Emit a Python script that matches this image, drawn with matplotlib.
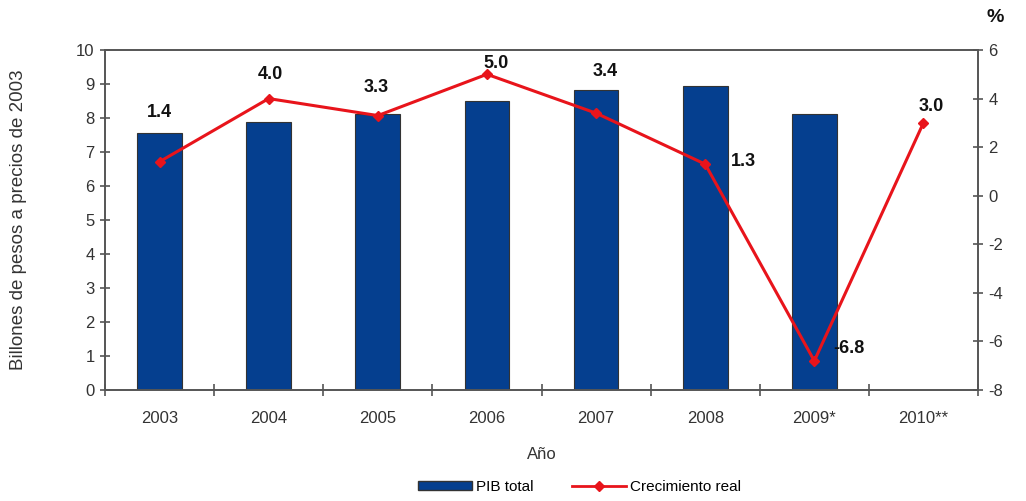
import matplotlib
matplotlib.use("Agg")
import matplotlib.pyplot as plt
from matplotlib.lines import Line2D
from matplotlib.patches import Patch
import numpy as np

plt.rcParams['font.family'] = ['Liberation Sans', 'DejaVu Sans']
plt.rcParams['axes.unicode_minus'] = False

years = ["2003", "2004", "2005", "2006", "2007", "2008", "2009*", "2010**"]
pib = [7.56, 7.88, 8.12, 8.5, 8.82, 8.94, 8.12, np.nan]
crec = [1.4, 4.0, 3.3, 5.0, 3.4, 1.3, -6.8, 3.0]
crec_labels = ["1.4", "4.0", "3.3", "5.0", "3.4", "1.3", "-6.8", "3.0"]
# label offsets in pixels (dx, dy)
offsets = [(0, 49), (2, 24), (-2, 28), (9, 11), (9, 42), (38, 3), (35, 12), (8, 16)]

bar_color = "#053F8F"
line_color = "#E8141B"
spine_color = "#555555"

fig = plt.figure(figsize=(10.26, 5.01), dpi=100)
ax = fig.add_axes([105/1026, 1-390/501, (978-105)/1026, (390-50)/501])
x = np.arange(len(years))
ax.bar(x, pib, width=0.41, color=bar_color, edgecolor="#333333", linewidth=0.8, zorder=2)
ax.set_xlim(-0.5, len(years)-0.5)
ax.set_ylim(0, 10)
ax.set_yticks(range(0, 11))
ax.set_xticks(x)
ax.set_xticklabels(years, fontsize=12, color="#333333")
ax.tick_params(axis='x', length=0, pad=15)
ax.set_xticks(np.arange(-0.5, len(years)), minor=True)
ax.tick_params(axis='x', which='minor', length=9, width=1.2, color=spine_color, direction='inout')
ax.tick_params(axis='y', length=7, width=1.2, color=spine_color, direction='inout', labelsize=12, labelcolor="#333333", pad=4)
for s in ax.spines.values():
    s.set_color(spine_color)
    s.set_linewidth(1.2)
ax.set_ylabel("Billones de pesos a precios de 2003", fontsize=13.5, color="#333333")
ax.yaxis.set_label_coords(-(105-27)/873, 0.5)
ax.set_xlabel("Año", fontsize=12, color="#333333", labelpad=15)

ax2 = ax.twinx()
ax2.plot(x, crec, color=line_color, linewidth=2.2, marker='D', markersize=5, zorder=3)
ax2.set_ylim(-8, 6)
ax2.set_yticks(range(-8, 7, 2))
ax2.tick_params(axis='y', length=7, width=1.2, color=spine_color, direction='inout', labelsize=12, labelcolor="#333333", pad=4)
for s in ax2.spines.values():
    s.set_color(spine_color)
    s.set_linewidth(1.2)
for xi, v, lab, (dx, dy) in zip(x, crec, crec_labels, offsets):
    ax2.annotate(lab, (xi, v), xytext=(dx*0.72, dy*0.72), textcoords='offset points',
                 ha='center', va='center', fontsize=13, fontweight='bold', color="#111111")
fig.text(995/1026, 1-17/501, "%", fontsize=14, fontweight='bold', ha='center', va='center', color="#111111")

handles = [Patch(facecolor=bar_color, edgecolor="#333333", label="PIB total"),
           Line2D([0], [0], color=line_color, linewidth=2, marker='D', markersize=5, label="Crecimiento real")]
fig.legend(handles=handles, loc='center', bbox_to_anchor=(0.565, 1-487/501), ncol=2, frameon=False,
           fontsize=11, handlelength=3.5, handleheight=0.5, columnspacing=2.5, handletextpad=0.3)

fig.savefig("out.png", dpi=100)
